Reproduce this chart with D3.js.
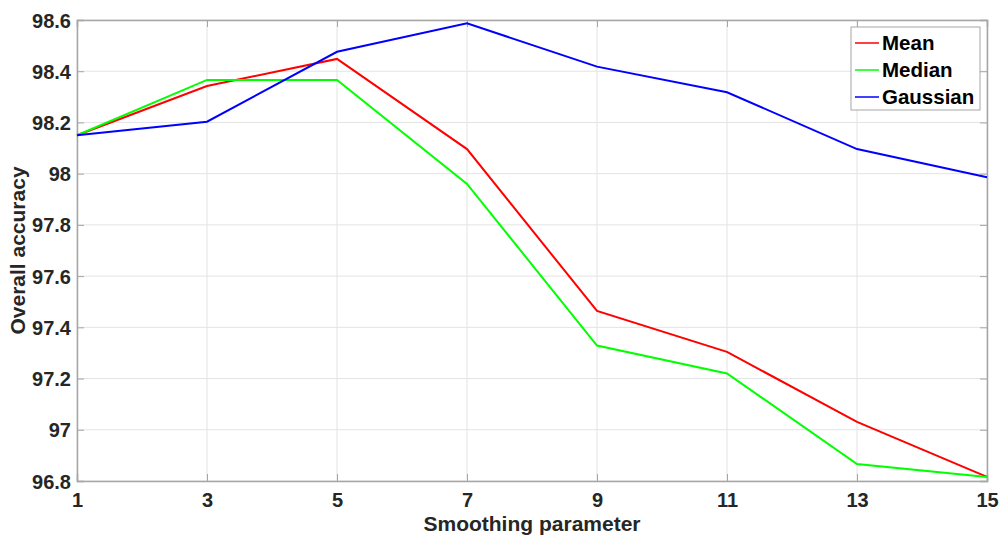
<!DOCTYPE html>
<html>
<head>
<meta charset="utf-8">
<style>
    body { margin: 0; background: #fff; }
    svg { font-family: "Liberation Sans", Arial, Helvetica, sans-serif; }
    .grid line { stroke: #e3e3e3; stroke-width: 1; }
    .tick text { font-size: 20px; font-weight: bold; fill: #262626; }
    .axis-label { font-size: 21px; font-weight: bold; fill: #262626; }
    .legend text { font-size: 20.5px; font-weight: bold; fill: #000; }
</style>
</head>
<body>
<svg width="999" height="540"></svg>
<script src="https://d3js.org/d3.v7.min.js"></script>
<script>
    let width = 999;
    let height = 540;
    let margin = { top: 20, right: 12, bottom: 59, left: 77 };

    // data
    let params = [1, 3, 5, 7, 9, 11, 13, 15];
    let meanAcc = [98.15, 98.342, 98.448, 98.096, 97.464, 97.304, 97.031, 96.816];
    let medianAcc = [98.15, 98.366, 98.366, 97.96, 97.329, 97.22, 96.866, 96.816];
    let gaussAcc = [98.15, 98.203, 98.476, 98.587, 98.418, 98.318, 98.096, 97.986];
    let yTicks = [96.8, 97, 97.2, 97.4, 97.6, 97.8, 98, 98.2, 98.4, 98.6];

    let series = [
        { name: "Mean", values: meanAcc, color: "#ff0000" },
        { name: "Median", values: medianAcc, color: "#00ff00" },
        { name: "Gaussian", values: gaussAcc, color: "#0000ff" }
    ];

    let svg = d3.select("svg");

    let x = d3.scaleLinear()
        .domain([1, 15])
        .range([margin.left, width - margin.right]);

    let y = d3.scaleLinear()
        .domain([96.8, 98.6])
        .range([height - margin.bottom, margin.top]);

    // grid
    let grid = svg.append("g").attr("class", "grid");
    grid.selectAll("line.v")
        .data(params)
        .join("line")
        .attr("class", "v")
        .attr("x1", d => x(d)).attr("x2", d => x(d))
        .attr("y1", y.range()[0]).attr("y2", y.range()[1]);
    grid.selectAll("line.h")
        .data(yTicks)
        .join("line")
        .attr("class", "h")
        .attr("x1", x.range()[0]).attr("x2", x.range()[1])
        .attr("y1", d => y(d)).attr("y2", d => y(d));

    // axes, matlab style: ticks pointing in, box all round
    let xAxis = svg.append("g")
        .attr("transform", `translate(0,${y.range()[0]})`)
        .call(d3.axisBottom(x).tickValues(params).tickSize(-7).tickPadding(12).tickFormat(d3.format("d")));
    let yAxis = svg.append("g")
        .attr("transform", `translate(${x.range()[0]},0)`)
        .call(d3.axisLeft(y).tickValues(yTicks).tickSize(-7).tickPadding(6).tickFormat(d => +d.toFixed(1)));
    let xTop = svg.append("g")
        .attr("transform", `translate(0,${y.range()[1]})`)
        .call(d3.axisTop(x).tickValues(params).tickSize(-7).tickFormat(""));
    let yRight = svg.append("g")
        .attr("transform", `translate(${x.range()[1]},0)`)
        .call(d3.axisRight(y).tickValues(yTicks).tickSize(-7).tickFormat(""));

    svg.selectAll(".domain").attr("stroke", "#a6a6a6").attr("stroke-width", 1.5);
    svg.selectAll(".tick line").attr("stroke", "#a6a6a6");
    xAxis.selectAll(".tick text").attr("dy", "0.71em");
    yAxis.selectAll(".tick text").attr("dy", "0.35em");

    // lines
    let line = d3.line()
        .x((d, i) => x(params[i]))
        .y(d => y(d));

    svg.append("g")
        .selectAll("path")
        .data(series)
        .join("path")
        .attr("d", d => line(d.values))
        .attr("fill", "none")
        .attr("stroke", d => d.color)
        .attr("stroke-width", 2);

    // axis labels
    svg.append("text")
        .attr("class", "axis-label")
        .attr("x", (x.range()[0] + x.range()[1]) / 2)
        .attr("y", 531)
        .attr("text-anchor", "middle")
        .text("Smoothing parameter");

    svg.append("text")
        .attr("class", "axis-label")
        .attr("transform", `translate(25,${(y.range()[0] + y.range()[1]) / 2}) rotate(-90)`)
        .attr("text-anchor", "middle")
        .text("Overall accuracy");

    // legend
    let legend = svg.append("g").attr("class", "legend")
        .attr("transform", "translate(851,27)");
    legend.append("rect")
        .attr("width", 129).attr("height", 83)
        .attr("fill", "#fff").attr("stroke", "#a6a6a6");
    let rows = legend.selectAll("g.row")
        .data(series)
        .join("g")
        .attr("class", "row")
        .attr("transform", (d, i) => `translate(0,${16 + i * 27})`);
    rows.append("line")
        .attr("x1", 4).attr("x2", 28)
        .attr("stroke", d => d.color).attr("stroke-width", 1.5);
    rows.append("text")
        .attr("x", 31).attr("dy", "0.35em")
        .text(d => d.name);
</script>
</body>
</html>
